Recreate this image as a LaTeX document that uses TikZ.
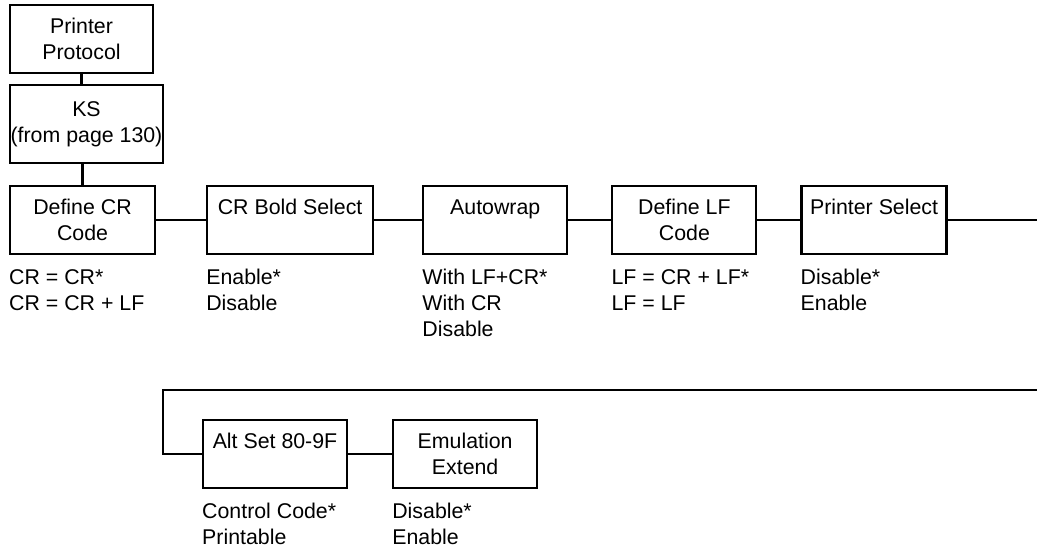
\documentclass[tikz,border=0pt]{standalone}
\usepackage{fontspec}
\setmainfont{Liberation Sans}
\usetikzlibrary{positioning}

\begin{document}
\begin{tikzpicture}[
        x=0.75pt, y=-0.75pt,
        menubox/.style={rectangle, draw=black, line width=1.6pt, align=center,
                        minimum width=108.75pt, minimum height=51pt, inner sep=0pt,
                        font=\fontsize{16}{19.5}\selectfont},
        opts/.style={align=left, inner sep=0pt, anchor=north west,
                     font=\fontsize{16}{19.5}\selectfont},
        link/.style={line width=1.6pt, black}
    ]
        \useasboundingbox (0,0) rectangle (1037,547);

        % top of the menu
        \node[menubox, minimum width=107.25pt] (proto) at (81.5,39) {Printer\\Protocol};
        \node[menubox, minimum width=114.75pt, minimum height=58.5pt] (ks) at (86.5,124) {KS\\(from page 130)};

        % first row
        \node[menubox] (crdef) at (82.5,220) {Define CR\\Code};
        \node[menubox, minimum width=124.5pt, right=37.5pt of crdef] (bold) {CR Bold Select\\~};
        \node[menubox, minimum width=108pt, right=36pt of bold] (wrap) {Autowrap\\~};
        \node[menubox, minimum width=108pt, right=32.25pt of wrap] (lfdef) {Define LF\\Code};
        \node[menubox, right=32.25pt of lfdef] (psel) {Printer Select\\~};

        % second row
        \node[menubox, minimum width=108pt] (alt) at (275,454) {Alt Set 80-9F\\~};
        \node[menubox, minimum width=108pt, right=33pt of alt] (emu) {Emulation\\Extend};

        % choices
        \node[opts, below=10.5pt of crdef.south west, anchor=north west] (crdefopt) {CR = CR*\\CR = CR + LF};
        \node[opts, below=10.5pt of bold.south west, anchor=north west] (boldopt) {Enable*\\Disable};
        \node[opts, below=10.5pt of wrap.south west, anchor=north west] (wrapopt) {With LF+CR*\\With CR\\Disable};
        \node[opts, below=10.5pt of lfdef.south west, anchor=north west] (lfdefopt) {LF = CR + LF*\\LF = LF};
        \node[opts, below=10.5pt of psel.south west, anchor=north west] (pselopt) {Disable*\\Enable};
        \node[opts, below=10.5pt of alt.south west, anchor=north west] (altopt) {Control Code*\\Printable};
        \node[opts, below=10.5pt of emu.south west, anchor=north west] (emuopt) {Disable*\\Enable};

        % wrap-around points
        \coordinate (edgea) at (1037,217);
        \coordinate (edgeb) at (1037,390);
        \coordinate (bend) at (163,390);

        \draw[link] (proto.south) -- (proto.south |- ks.north);
        \draw[link] (crdef.north) -- (crdef.north |- ks.south);
        \draw[link] (crdef) -- (bold);
        \draw[link] (bold) -- (wrap);
        \draw[link] (wrap) -- (lfdef);
        \draw[link] (lfdef) -- (psel);
        \draw[link] (psel.east) -- (psel.east -| edgea);
        \draw[link] (edgeb) -- (bend) |- (alt.west);
        \draw[link] (alt) -- (emu);
    \end{tikzpicture}
\end{document}
